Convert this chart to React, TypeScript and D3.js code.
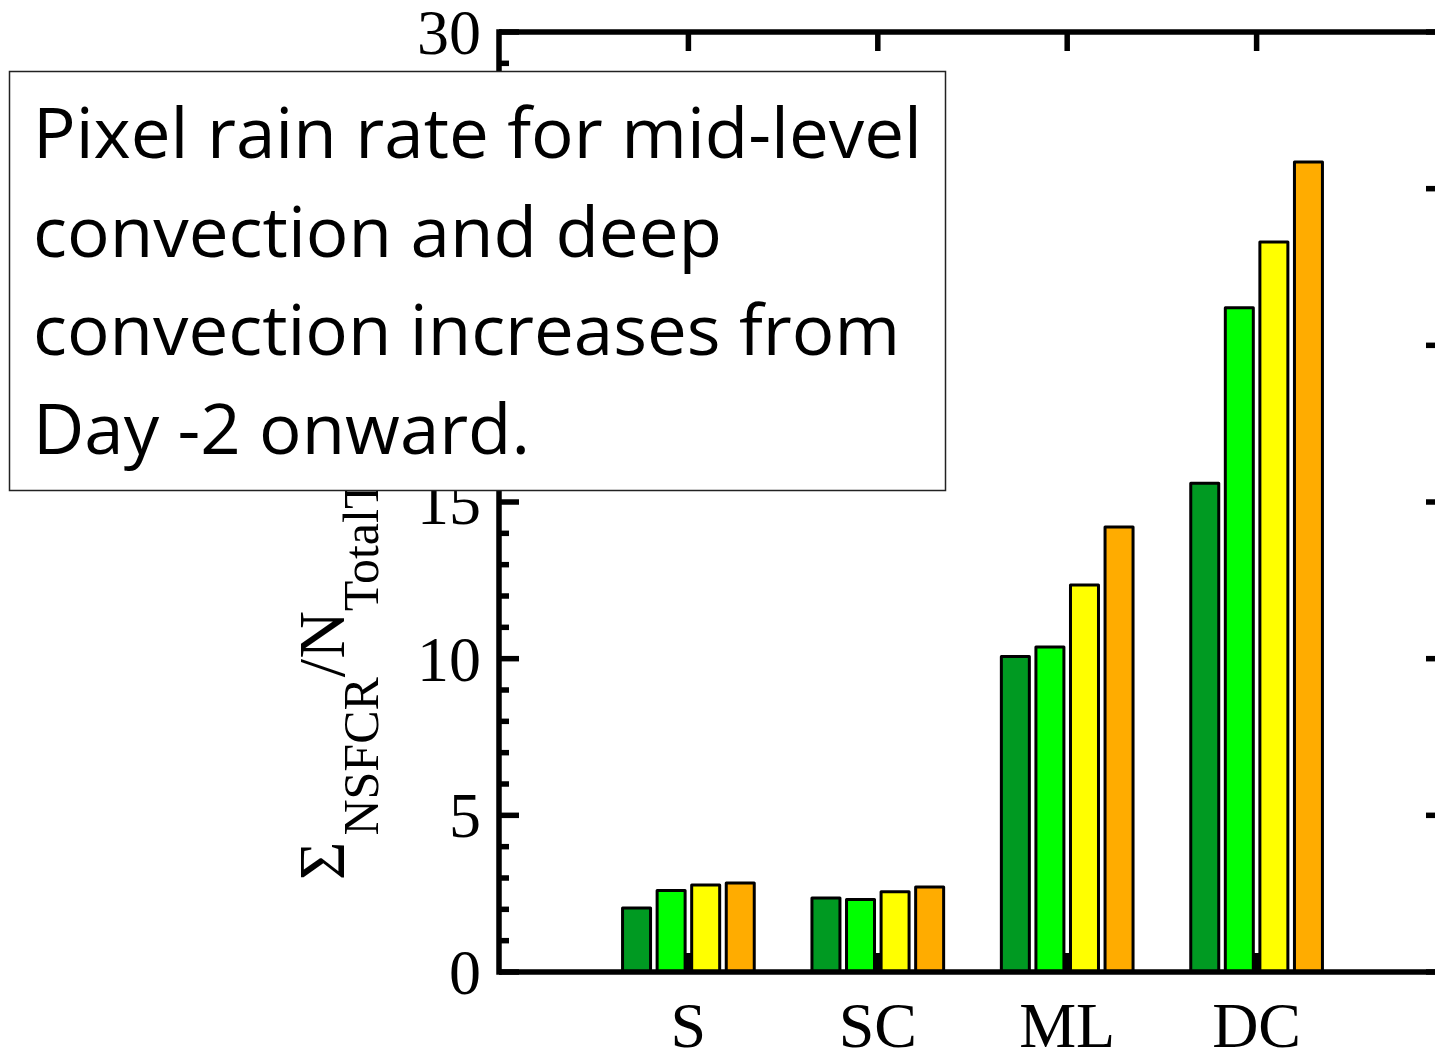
import React, { useEffect, useRef } from 'react';
import * as d3 from 'd3';

// categories and series
const categories = ['S', 'SC', 'ML', 'DC'];
const seriesNames = ['s1', 's2', 's3', 's4'];
const seriesColors = ['#009a22', '#00ff00', '#ffff00', '#ffac00'];

// values per series (one entry per category)
const s1Values = [2.04, 2.36, 10.07, 15.6];
const s2Values = [2.6, 2.31, 10.37, 21.2];
const s3Values = [2.78, 2.56, 12.35, 23.3];
const s4Values = [2.84, 2.71, 14.2, 25.85];

const yTicks = [0, 5, 10, 15, 20, 25, 30];

const noteLines = [
  'Pixel rain rate for mid-level',
  'convection and deep',
  'convection increases from',
  'Day -2 onward.',
];

const App = () => {
  const ref = useRef<SVGSVGElement | null>(null);

  useEffect(() => {
    if (!ref.current) return;
    const width = 1435;
    const height = 1052;
    const svg = d3.select(ref.current);
    svg.selectAll('*').remove();
    svg.attr('width', width).attr('height', height);

    const values = [s1Values, s2Values, s3Values, s4Values];
    const x = d3.scaleLinear().domain([0, 5]).range([499, 1446]);
    const y = d3.scaleLinear().domain([0, 30]).range([972, 32]);
    const band = d3.scaleBand<string>()
      .domain(seriesNames)
      .range([-0.365, 0.365])
      .paddingInner(0.19)
      .paddingOuter(0.095);

    const lw = 5.5;
    const serif = '"Liberation Serif", "Times New Roman", serif';
    const axisG = svg.append('g');

    // bottom ticks (drawn under the bars)
    axisG.selectAll('.bt')
      .data(categories)
      .enter().append('line')
      .attr('x1', (d, i) => x(i + 1)).attr('x2', (d, i) => x(i + 1))
      .attr('y1', y(0)).attr('y2', y(0) - 19)
      .attr('stroke', '#000').attr('stroke-width', lw);

    // bars
    const barG = svg.append('g');
    values.forEach((vals, si) => {
      barG.selectAll(`.bar${si}`)
        .data(vals)
        .enter().append('rect')
        .attr('x', (d, i) => x(i + 1 + (band(seriesNames[si]) as number)))
        .attr('width', x(band.bandwidth()) - x(0))
        .attr('y', d => y(d))
        .attr('height', d => y(0) - y(d))
        .attr('fill', seriesColors[si])
        .attr('stroke', '#000')
        .attr('stroke-width', 3)
        .attr('stroke-linejoin', 'round');
    });

    const frame = svg.append('g');
    // frame lines
    frame.append('line').attr('x1', x(0)).attr('x2', x(5)).attr('y1', y(0)).attr('y2', y(0))
      .attr('stroke', '#000').attr('stroke-width', lw);
    frame.append('line').attr('x1', x(0)).attr('x2', x(5)).attr('y1', y(30)).attr('y2', y(30))
      .attr('stroke', '#000').attr('stroke-width', lw);
    frame.append('line').attr('x1', x(0)).attr('x2', x(0)).attr('y1', y(30) - lw / 2).attr('y2', y(0) + lw / 2)
      .attr('stroke', '#000').attr('stroke-width', lw);
    frame.append('line').attr('x1', x(5)).attr('x2', x(5)).attr('y1', y(30)).attr('y2', y(0))
      .attr('stroke', '#000').attr('stroke-width', lw);

    // top ticks
    frame.selectAll('.tt')
      .data(categories)
      .enter().append('line')
      .attr('x1', (d, i) => x(i + 1)).attr('x2', (d, i) => x(i + 1))
      .attr('y1', y(30)).attr('y2', y(30) + 19)
      .attr('stroke', '#000').attr('stroke-width', lw);

    // left/right ticks (major every 5, minor every 1)
    const all = d3.range(0, 31);
    frame.selectAll('.lt')
      .data(all)
      .enter().append('line')
      .attr('x1', x(0)).attr('x2', d => x(0) + (d % 5 === 0 ? 20 : 10))
      .attr('y1', d => y(d)).attr('y2', d => y(d))
      .attr('stroke', '#000').attr('stroke-width', lw);
    frame.selectAll('.rt')
      .data(all)
      .enter().append('line')
      .attr('x1', x(5)).attr('x2', d => x(5) - (d % 5 === 0 ? 20 : 10))
      .attr('y1', d => y(d)).attr('y2', d => y(d))
      .attr('stroke', '#000').attr('stroke-width', lw);

    // y tick labels
    frame.selectAll('.yl')
      .data(yTicks)
      .enter().append('text')
      .attr('x', 481)
      .attr('y', d => y(d) + 22)
      .attr('text-anchor', 'end')
      .style('font-family', serif)
      .style('font-size', '64px')
      .text(d => d);

    // x labels
    frame.selectAll('.xl')
      .data(categories)
      .enter().append('text')
      .attr('x', (d, i) => x(i + 1))
      .attr('y', 1047)
      .attr('text-anchor', 'middle')
      .style('font-family', serif)
      .style('font-size', '64px')
      .text(d => d);

    // y axis title (partly hidden behind the note box, as in the original)
    const yt = svg.append('text')
      .attr('transform', 'translate(344,880) rotate(-90)')
      .style('font-family', serif)
      .style('font-size', '66px');
    yt.append('tspan').text('Σ');
    yt.append('tspan').attr('dx', 6).attr('dy', 34).style('font-size', '50px').text('NSFCR');
    yt.append('tspan').attr('dy', -34).text('/N');
    yt.append('tspan').attr('dy', 34).style('font-size', '50px').text('TotalT');

    // annotation box
    const note = svg.append('g');
    note.append('rect')
      .attr('x', 9.5).attr('y', 71.5)
      .attr('width', 936).attr('height', 419)
      .attr('fill', '#fff')
      .attr('stroke', '#222')
      .attr('stroke-width', 1.5);
    const lineLengths = [889, 689, 867, 497];
    note.selectAll('.nl')
      .data(noteLines)
      .enter().append('text')
      .attr('x', 33)
      .attr('y', (d, i) => 158 + i * 98.5)
      .attr('textLength', (d, i) => lineLengths[i])
      .attr('lengthAdjust', 'spacingAndGlyphs')
      .style('font-family', '"Open Sans", Lato, sans-serif')
      .style('font-size', '70px')
      .text(d => d);
  }, []);

  return (
    <svg ref={ref} style={{ position: 'absolute', left: 0, top: 0, background: '#fff' }}></svg>
  );
};

export default App;
